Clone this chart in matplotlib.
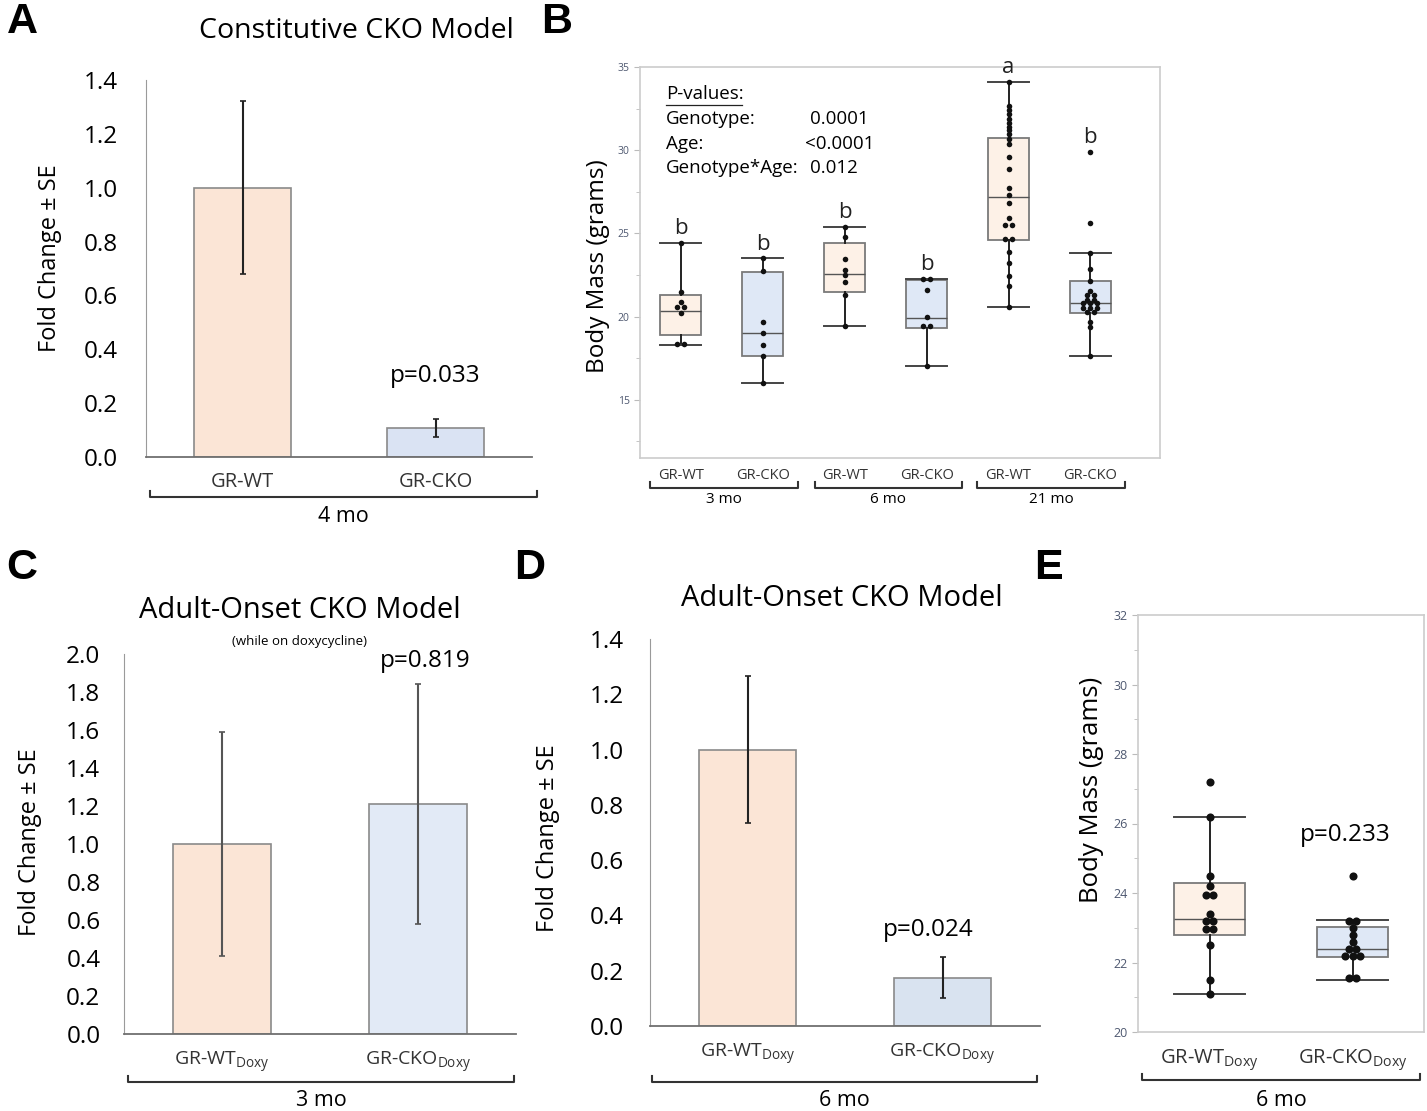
import numpy as np
import matplotlib.pyplot as plt
from matplotlib.lines import Line2D

plt.rcParams['font.family'] = ['Open Sans', 'DejaVu Sans']
plt.rcParams['mathtext.fontset'] = 'custom'
plt.rcParams['mathtext.rm'] = 'Open Sans'

W, H = 1427, 1111

# ---- data ----
# A: constitutive CKO, 4 mo (fold change +/- SE)
a_groups = ['GR-WT', 'GR-CKO']
a_mean = [1.0, 0.108]
a_se = [0.322, 0.032]

# C: adult-onset CKO on doxy, 3 mo
c_groups = [r'GR-WT$_{\mathrm{Doxy}}$', r'GR-CKO$_{\mathrm{Doxy}}$']
c_mean = [1.0, 1.21]
c_se = [0.587, 0.63]

# D: adult-onset CKO, 6 mo
d_groups = [r'GR-WT$_{\mathrm{Doxy}}$', r'GR-CKO$_{\mathrm{Doxy}}$']
d_mean = [1.0, 0.175]
d_se = [0.265, 0.075]

# B: body mass by genotype and age
b_labels = ['GR-WT', 'GR-CKO', 'GR-WT', 'GR-CKO', 'GR-WT', 'GR-CKO']
b_ages = ['3 mo', '6 mo', '21 mo']
wt3 = [24.45, 21.5, 20.9, 20.6, 20.6, 20.2, 18.35, 18.35]
cko3 = [23.5, 22.75, 19.7, 19.0, 18.3, 17.65, 16.0]
wt6 = [25.4, 24.8, 23.45, 22.8, 22.5, 22.1, 21.3, 19.45]
cko6 = [22.25, 22.25, 21.6, 19.95, 19.45, 19.45, 17.0]
wt21 = [34.1, 32.65, 32.4, 32.15, 31.9, 31.65, 31.4, 31.2, 30.95, 30.7, 30.35,
        29.6, 28.85, 27.75, 27.3, 26.85, 25.95, 25.5, 25.5, 24.65, 24.65,
        23.9, 23.25, 22.45, 21.85, 20.6]
cko21 = [29.9, 25.6, 23.85, 22.85, 22.15, 21.55, 21.3, 21.3, 21.0, 21.0,
         20.8, 20.8, 20.8, 20.5, 20.5, 20.5, 20.25, 20.25, 19.65, 19.35, 17.65]
b_q1 = [18.9, 17.65, 21.5, 19.3, 24.62, 20.2]
b_med = [20.35, 19.03, 22.55, 19.9, 27.2, 20.83]
b_q3 = [21.3, 22.7, 24.43, 22.2, 30.76, 22.13]
b_lo = [18.3, 16.0, 19.45, 17.0, 20.6, 17.65]
b_hi = [24.45, 23.5, 25.4, 22.25, 34.1, 23.85]
b_letters = ['b', 'b', 'b', 'b', 'a', 'b']

# E: body mass, adult-onset, 6 mo
e_groups = [r'GR-WT$_{\mathrm{Doxy}}$', r'GR-CKO$_{\mathrm{Doxy}}$']
e_wt = [27.2, 26.2, 24.5, 24.2, 23.95, 23.95, 23.4, 23.2, 23.2, 22.95, 22.95,
        22.5, 21.5, 21.1]
e_cko = [24.5, 23.2, 23.2, 23.0, 22.8, 22.6, 22.4, 22.4, 22.2, 22.2, 22.2,
         21.55, 21.55]
e_q1 = [22.8, 22.15]
e_med = [23.25, 22.4]
e_q3 = [24.28, 23.02]
e_lo = [21.1, 21.5]
e_hi = [26.2, 23.22]

WT_COL = '#fbe5d6'
CKO_COL = '#dae3f3'
WT_BOX = '#fdf1e7'
CKO_BOX = '#dfe8f6'

fig = plt.figure(figsize=(W / 100, H / 100), dpi=100)


def px_axes(x, y_bottom, w, h):
    return fig.add_axes([x / W, 1 - y_bottom / H, w / W, h / H])


def ftext(x, y, s, **kw):
    kw.setdefault('ha', 'center')
    kw.setdefault('va', 'center')
    fig.text(x / W, 1 - y / H, s, **kw)


def bracket(x0, x1, y, label, dy, fs):
    fig.add_artist(Line2D([x0 / W, x0 / W, x1 / W, x1 / W],
                          [1 - (y - 6) / H, 1 - y / H, 1 - y / H, 1 - (y - 6) / H],
                          color='#333333', lw=1.5))
    ftext((x0 + x1) / 2, y + dy, label, fontsize=fs)


def bar_panel(ax, groups, mean, se, ymax, step, pad, xfs, cko_col=CKO_COL, ecol='#222222'):
    x = np.arange(len(groups))
    ax.bar(x, mean, width=0.5, color=[WT_COL, cko_col], edgecolor='#8a8a8a', linewidth=1.2)
    ax.errorbar(x, mean, yerr=se, fmt='none', ecolor=ecol, elinewidth=1.5, capsize=2.5, capthick=1.2)
    ax.set_xlim(-0.5, 1.5)
    ax.set_ylim(0, ymax)
    ax.set_yticks(np.arange(0, ymax + 0.01, step))
    ax.set_yticklabels([f'{v:.1f}' for v in np.arange(0, ymax + 0.01, step)], fontsize=17.5)
    ax.set_xticks(x)
    ax.set_xticklabels(groups, fontsize=xfs, color='#333333')
    ax.tick_params(axis='y', length=0, pad=pad)
    ax.tick_params(axis='x', length=0, pad=11)
    for s in ['top', 'right']:
        ax.spines[s].set_visible(False)
    ax.spines['left'].set_color('#9a9a9a')
    ax.spines['bottom'].set_color('#6f6f6f')
    ax.spines['bottom'].set_linewidth(1.3)


def swarm(vals, center, step):
    rows = []
    for v in sorted(vals, reverse=True):
        if rows and abs(rows[-1][0] - v) < 0.01:
            rows[-1].append(v)
        else:
            rows.append([v])
    xs, ys = [], []
    for r in rows:
        n = len(r)
        for i, v in enumerate(r):
            xs.append(center + (i - (n - 1) / 2) * step)
            ys.append(v)
    return xs, ys


def box_panel(ax, samples, q1, med, q3, lo, hi, colors, step, ms):
    stats = [dict(q1=a, med=m, q3=b, whislo=l, whishi=h, fliers=[])
             for a, m, b, l, h in zip(q1, med, q3, lo, hi)]
    pos = np.arange(len(stats))
    bp = ax.bxp(stats, positions=pos, widths=0.5, capwidths=0.5, patch_artist=True,
                showfliers=False,
                boxprops=dict(edgecolor='#7a7a7a', linewidth=1.3),
                medianprops=dict(color='#555555', linewidth=1.0),
                whiskerprops=dict(color='#222222', linewidth=1.4),
                capprops=dict(color='#444444', linewidth=1.4))
    for patch, c in zip(bp['boxes'], colors):
        patch.set_facecolor(c)
    for p, vals in zip(pos, samples):
        xs, ys = swarm(vals, p, step)
        ax.scatter(xs, ys, s=ms, color='#111111', zorder=5, linewidths=0)
    for s in ax.spines.values():
        s.set_color('#cccccc')
        s.set_linewidth(1.2)
    ax.tick_params(axis='y', which='both', colors='#bbbbbb', labelcolor='#4e5870', labelsize=7.5)
    ax.tick_params(axis='x', length=0)
    return pos


# ---- A ----
axA = px_axes(146, 457, 386, 377)
bar_panel(axA, a_groups, a_mean, a_se, 1.4, 0.2, 20, 14.5)
axA.text(1, a_mean[1] + a_se[1] + 0.16, 'p=0.033', ha='center', va='center', fontsize=17.5)
ftext(356, 31, 'Constitutive CKO Model', fontsize=20.5)
ftext(50, 258, 'Fold Change \u00b1 SE', fontsize=17, rotation=90)
bracket(150, 537, 497, '4 mo', 20, 15.5)

# ---- B ----
axB = px_axes(640, 458, 520, 391)
posB = box_panel(axB, [wt3, cko3, wt6, cko6, wt21, cko21], b_q1, b_med, b_q3, b_lo, b_hi,
                 [WT_BOX, CKO_BOX] * 3, 0.085, 16)
axB.set_xlim(-0.5, 5.85)
axB.set_ylim(11.5, 35)
axB.set_yticks([15, 20, 25, 30, 35])
axB.set_yticks([12.5, 17.5, 22.5, 27.5, 32.5], minor=True)
axB.tick_params(axis='y', which='major', length=4)
axB.tick_params(axis='y', which='minor', length=3)
axB.set_xticks(posB)
axB.set_xticklabels(b_labels, fontsize=10.5, color='#333333')
axB.tick_params(axis='x', pad=7)
for p, vals, lab in zip(posB, [wt3, cko3, wt6, cko6, wt21, cko21], b_letters):
    axB.text(p, max(vals) + 0.85, lab, ha='center', va='center', fontsize=16, color='#222222')
axB.text(0.05, 0.93, 'P-values:', transform=axB.transAxes, fontsize=13.5, va='center')
axB.plot([0.05, 0.197], [0.903, 0.903], transform=axB.transAxes, color='#222222', lw=0.9)
for i, (k, v) in enumerate([('Genotype:', '0.0001'), ('Age:', '<0.0001'),
                            ('Genotype*Age:', '0.012')]):
    yy = 0.867 - i * 0.063
    axB.text(0.05, yy, k, transform=axB.transAxes, fontsize=13.5, va='center')
    axB.text(0.327 if v[0] != '<' else 0.317, yy, v, transform=axB.transAxes, fontsize=13.5, va='center')
ftext(598, 266, 'Body Mass (grams)', fontsize=17.5, rotation=90)
for (x0, x1), lab in zip([(650, 798), (815, 962), (977, 1125)], b_ages):
    bracket(x0, x1, 488, lab, 11, 11)

# ---- C ----
axC = px_axes(124, 1034, 392, 380)
bar_panel(axC, c_groups, c_mean, c_se, 2.0, 0.2, 17, 14, cko_col='#e2eaf6', ecol='#555555')
ftext(300, 611, 'Adult-Onset CKO Model', fontsize=21)
ftext(300, 642, '(while on doxycycline)', fontsize=9.5)
ftext(425, 661, 'p=0.819', fontsize=17.5)
ftext(30, 842, 'Fold Change \u00b1 SE', fontsize=17, rotation=90)
bracket(128, 514, 1082, '3 mo', 19, 15.5)

# ---- D ----
axD = px_axes(650, 1026, 390, 387)
bar_panel(axD, d_groups, d_mean, d_se, 1.4, 0.2, 19, 14, cko_col='#d9e3f0')
ftext(842, 598, 'Adult-Onset CKO Model', fontsize=21)
ftext(928, 930, 'p=0.024', fontsize=17.5)
ftext(548, 838, 'Fold Change \u00b1 SE', fontsize=17, rotation=90)
bracket(652, 1037, 1082, '6 mo', 19, 15.5)

# ---- E ----
axE = px_axes(1138, 1032, 286, 417)
posE = box_panel(axE, [e_wt, e_cko], e_q1, e_med, e_q3, e_lo, e_hi,
                 [WT_BOX, CKO_BOX], 0.055, 34)
axE.set_xlim(-0.5, 1.5)
axE.set_ylim(20, 32)
axE.set_yticks(np.arange(20, 33, 2))
axE.set_yticks(np.arange(21, 33, 2), minor=True)
axE.tick_params(axis='y', which='major', length=4, labelsize=9)
axE.tick_params(axis='y', which='minor', length=3)
axE.set_xticks(posE)
axE.set_xticklabels(e_groups, fontsize=14.5, color='#333333')
axE.tick_params(axis='x', pad=11)
ftext(1345, 835, 'p=0.233', fontsize=17.5)
ftext(1092, 790, 'Body Mass (grams)', fontsize=18.5, rotation=90)
bracket(1142, 1420, 1080, '6 mo', 20, 15.5)

# panel letters
for x, y, s in [(22, 22, 'A'), (557, 22, 'B'), (22, 568, 'C'), (530, 568, 'D'), (1048, 568, 'E')]:
    ftext(x, y, s, fontsize=31, fontweight='bold', family='Liberation Sans')

fig.savefig('out.png', dpi=100)
